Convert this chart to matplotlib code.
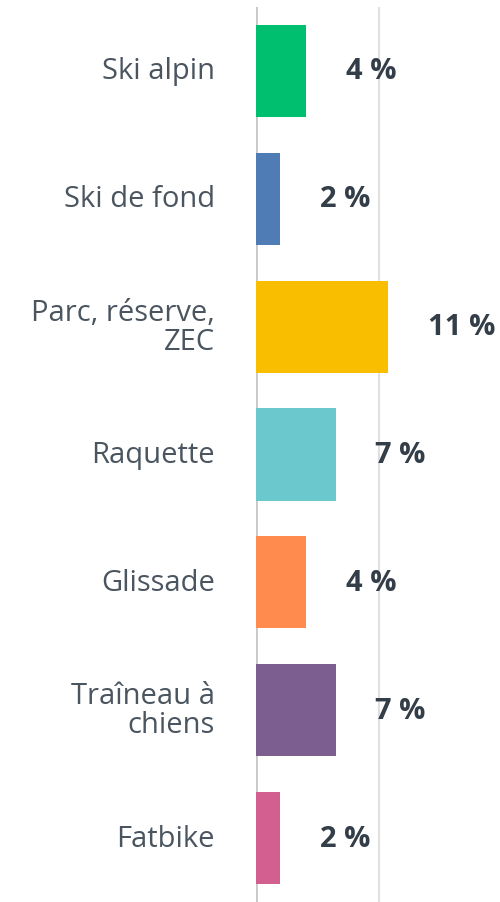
import matplotlib.pyplot as plt

# Données (%)
activites = ['Ski alpin', 'Ski de fond', 'Parc, réserve,\nZEC', 'Raquette',
             'Glissade', 'Traîneau à\nchiens', 'Fatbike']
pourcentages = [4.1, 2.0, 10.75, 6.5, 4.1, 6.5, 2.0]
etiquettes = ['4 %', '2 %', '11 %', '7 %', '4 %', '7 %', '2 %']
couleurs = ['#00BF6F', '#507CB6', '#F9BE00', '#6BC8CD',
            '#FF8B4F', '#7D5E90', '#D25F90']

plt.rcParams['font.family'] = ['Open Sans', 'DejaVu Sans']

fig = plt.figure(figsize=(5, 9.03), dpi=100)
# axe de 255.7 px à 500 px en largeur, de 8 px à 903 px en hauteur
ax = fig.add_axes([255.7 / 500, 0, 244.3 / 500, 895 / 903])

pos = list(range(len(activites)))
ax.barh(pos, pourcentages, height=0.72, color=couleurs, zorder=2)

ax.set_xlim(0, 244.3 / 12.33)
ax.set_ylim(len(activites) - 0.5, -0.5)

# lignes de grille verticales
ax.axvline(0, color='#c9c9c9', lw=2, zorder=1)
ax.axvline(10, color='#e0e0e0', lw=1.5, zorder=1)

for i, (v, txt) in enumerate(zip(pourcentages, etiquettes)):
    ax.text(v + 3.2, i, txt, va='center', ha='left', fontsize=21,
            fontweight='bold', color='#333e48')

for i, nom in enumerate(activites):
    ax.text(-3.3, i, nom, va='center', ha='right', fontsize=21,
            color='#4a5560', linespacing=1.0)

ax.set_xticks([])
ax.set_yticks([])
for s in ax.spines.values():
    s.set_visible(False)

plt.savefig('out.png', dpi=100)
